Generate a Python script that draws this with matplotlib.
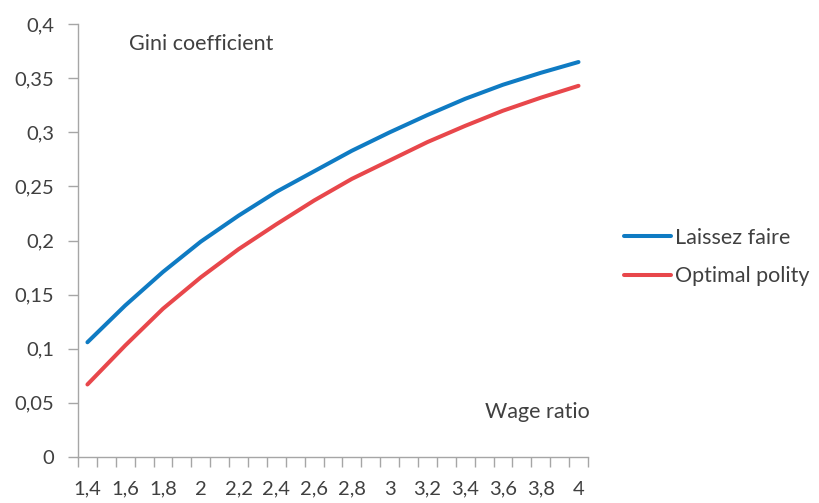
import matplotlib
matplotlib.use("Agg")
from matplotlib import pyplot as plt
from matplotlib.ticker import FixedLocator

# wage ratio categories (labelled every 0.2)
wage_ratio = [1.4, 1.6, 1.8, 2.0, 2.2, 2.4, 2.6, 2.8, 3.0, 3.2, 3.4, 3.6, 3.8, 4.0]
tick_labels = ["1,4", "1,6", "1,8", "2", "2,2", "2,4", "2,6", "2,8", "3", "3,2", "3,4", "3,6", "3,8", "4"]

# Gini coefficient
laissez_faire = [0.106, 0.140, 0.171, 0.199, 0.223, 0.245, 0.264, 0.283, 0.300, 0.316, 0.331, 0.344, 0.355, 0.365]
optimal_polity = [0.067, 0.103, 0.137, 0.166, 0.192, 0.215, 0.237, 0.257, 0.274, 0.291, 0.306, 0.320, 0.332, 0.343]

y_ticks = [0, 0.05, 0.1, 0.15, 0.2, 0.25, 0.3, 0.35, 0.4]
y_labels = ["0", "0,05", "0,1", "0,15", "0,2", "0,25", "0,3", "0,35", "0,4"]

plt.rcParams['font.family'] = ['Lato', 'DejaVu Sans']
txt = '#404040'
axis_col = '#A6A6A6'

fig = plt.figure(figsize=(8.2, 5.03), dpi=100)
ax = fig.add_axes([0.0951, 0.0915, 0.717 - 0.0951, 0.952 - 0.0915])

ax.plot(wage_ratio, laissez_faire, color='#0F7BC3', lw=2.9, solid_capstyle='round',
        solid_joinstyle='round', label='Laissez faire')
ax.plot(wage_ratio, optimal_polity, color='#E8474B', lw=2.9, solid_capstyle='round',
        solid_joinstyle='round', label='Optimal polity')

ax.set_xlim(1.35, 4.05)
ax.set_ylim(0, 0.4)

ax.set_xticks(wage_ratio)
ax.set_xticklabels(tick_labels)
# category boundaries as tick marks
bounds = [1.35 + 0.1 * i for i in range(28)]
ax.xaxis.set_minor_locator(FixedLocator(bounds))
ax.tick_params(axis='x', which='major', length=0, pad=17, labelsize=14.5, labelcolor=txt)
ax.tick_params(axis='x', which='minor', length=7, width=1, color=axis_col, direction='out')

ax.set_yticks(y_ticks)
ax.set_yticklabels(y_labels)
ax.tick_params(axis='y', length=7, width=1, color=axis_col, pad=10, labelsize=14.5, labelcolor=txt)

for s in ['top', 'right']:
    ax.spines[s].set_visible(False)
for s in ['left', 'bottom']:
    ax.spines[s].set_color(axis_col)
    ax.spines[s].set_linewidth(1)

fig.text(129 / 820, 1 - 44 / 503, 'Gini coefficient', fontsize=15.5, color=txt, va='center', ha='left')
fig.text(590 / 820, 1 - 412 / 503, 'Wage ratio', fontsize=15.5, color=txt, va='center', ha='right')

leg = fig.legend(loc='center left', bbox_to_anchor=(624 / 820, 1 - 257 / 503), frameon=False,
                 fontsize=15.5, handlelength=2.2, handletextpad=0.15, labelspacing=0.85,
                 borderpad=0, borderaxespad=0)
for t in leg.get_texts():
    t.set_color(txt)

fig.savefig('out.png', dpi=100)
